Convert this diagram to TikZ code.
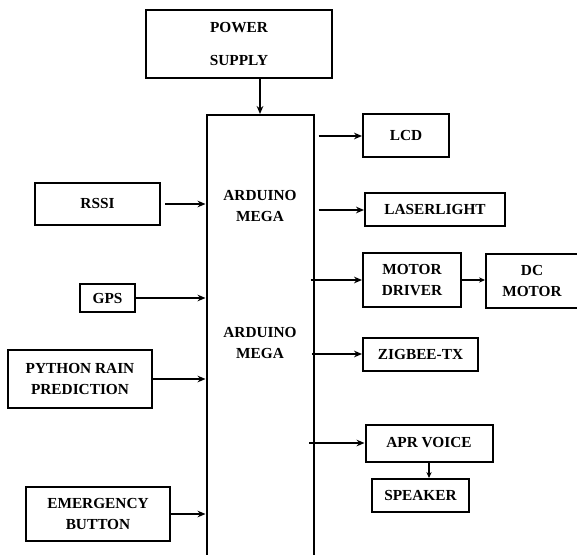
\documentclass[tikz,border=0pt]{standalone}
\usepackage{fontspec}
\setmainfont{Liberation Serif}
\usetikzlibrary{arrows.meta, positioning, calc}

\begin{document}
\begin{tikzpicture}[x=0.75pt, y=-0.75pt,
    block/.style={rectangle, draw=black, line width=1.5pt, align=center, inner sep=0pt, font=\bfseries\fontsize{11.5}{16}\selectfont},
    label/.style={align=center, inner sep=0pt, font=\bfseries\fontsize{11.5}{16}\selectfont},
    arrow/.style={-{Stealth[length=6pt,width=5pt]}, line width=1.3pt},
    smallarrow/.style={-{Stealth[length=4.5pt,width=4pt]}, line width=1.1pt}
]
    \useasboundingbox (0,0) rectangle (577,555);
    \clip (0,0) rectangle (577,555);

    % Power supply and controller
    \node[block, minimum width=139.5pt, minimum height=51pt] (power) at (239, 44) {POWER\\[9pt] SUPPLY};
    \node[block, minimum width=80.25pt, minimum height=345pt] (mega) at (260, 345) {};
    \node[label] (megaA) at (260, 206) {ARDUINO\\MEGA};
    \node[label] (megaB) at (260, 343) {ARDUINO\\MEGA};

    % Inputs
    \node[block, minimum width=93.75pt, minimum height=31.5pt] (rssi) at (97.5, 204) {RSSI};
    \node[block, minimum width=41.25pt, minimum height=21pt] (gps) at (107.5, 298) {GPS};
    \node[block, minimum width=108pt, minimum height=43.5pt] (python) at (80, 379) {PYTHON RAIN\\PREDICTION};
    \node[block, minimum width=108pt, minimum height=40.5pt] (emergency) at (98, 514) {EMERGENCY\\BUTTON};

    % Outputs
    \node[block, minimum width=64.5pt, minimum height=32.25pt] (lcd) at (406, 136) {LCD};
    \node[block, minimum width=105pt, minimum height=24.75pt] (laser) at (435, 210) {LASERLIGHT};
    \node[block, minimum width=73.5pt, minimum height=40.5pt] (driver) at (412, 280) {MOTOR\\DRIVER};
    \node[block, minimum width=69pt, minimum height=40.5pt] (dcmotor) at (532, 281) {DC\\MOTOR};
    \node[block, minimum width=86.25pt, minimum height=24.75pt] (zigbee) at (420.5, 354) {ZIGBEE-TX};
    \node[block, minimum width=95.25pt, minimum height=27.75pt] (apr) at (429, 443) {APR VOICE};
    \node[block, minimum width=72.75pt, minimum height=24.75pt] (speaker) at (420.5, 495.5) {SPEAKER};

    % Connections
    \draw[arrow] (mega.north |- power.south) -- (mega.north);
    \draw[arrow, shorten <=3pt] (rssi.east) -- (rssi.east -| mega.west);
    \draw[arrow] (gps.east) -- (gps.east -| mega.west);
    \draw[arrow] (python.east) -- (python.east -| mega.west);
    \draw[arrow] (emergency.east) -- (emergency.east -| mega.west);
    \draw[arrow, shorten <=3pt] (lcd.west -| mega.east) -- (lcd.west);
    \draw[arrow, shorten <=3pt] (laser.west -| mega.east) -- (laser.west);
    \draw[arrow, shorten <=-3pt] (driver.west -| mega.east) -- (driver.west);
    \draw[smallarrow] (driver.east) -- (driver.east -| dcmotor.west);
    \draw[arrow, shorten <=-2pt] (zigbee.west -| mega.east) -- (zigbee.west);
    \draw[arrow, shorten <=-4pt] (apr.west -| mega.east) -- (apr.west);
    \draw[smallarrow] (apr.south) -- (apr.south |- speaker.north);

\end{tikzpicture}
\end{document}
